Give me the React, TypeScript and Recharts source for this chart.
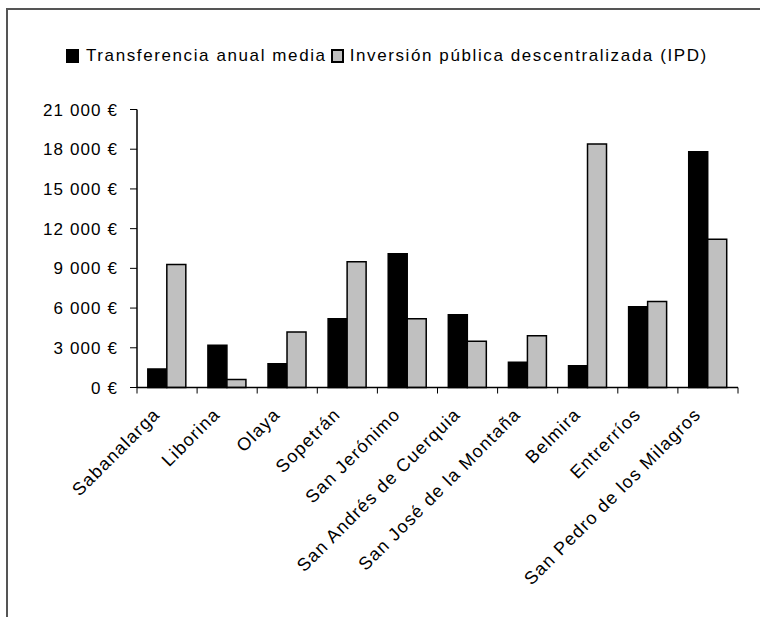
import { BarChart, Bar, XAxis, YAxis } from "recharts";

const municipios = [
  "Sabanalarga", "Liborina", "Olaya", "Sopetrán", "San Jerónimo",
  "San Andrés de Cuerquia", "San José de la Montaña", "Belmira", "Entrerríos", "San Pedro de los Milagros",
];
const transferencia = [1400, 3200, 1800, 5200, 10100, 5500, 1900, 1650, 6100, 17800];
const ipd = [9300, 600, 4200, 9500, 5200, 3500, 3900, 18400, 6500, 11200];
const yTicks = [0, 3000, 6000, 9000, 12000, 15000, 18000, 21000];
const seriesNames = ["Transferencia anual media", "Inversión pública descentralizada (IPD)"];

const data = municipios.map((name, i) => ({ name, transferencia: transferencia[i], ipd: ipd[i] }));

const FONT = '"Liberation Sans", Arial, sans-serif';

const fmtEuro = (v: number) => {
  if (v === 0) return "0 €";
  const k = Math.floor(v / 1000);
  return `${k} 000 €`;
};

// category label: rotated -45°, end anchored just left of the category centre
function CatTick(props: any) {
  const { x, y, payload, index, visibleTicksCount } = props;
  const off = payload.offset ?? 0;
  const lx = x - 6;
  const ly = y + 28;
  return (
    <g>
      <line x1={x - off} y1={y} x2={x - off} y2={y + 6} stroke="#000" strokeWidth={1} />
      {index === visibleTicksCount - 1 && (
        <line x1={x + off} y1={y} x2={x + off} y2={y + 6} stroke="#000" strokeWidth={1} />
      )}
      <text
        x={lx}
        y={ly}
        transform={`rotate(-45, ${lx}, ${ly})`}
        textAnchor="end"
        fontFamily={FONT}
        fontSize={18}
        letterSpacing={1.2}
        fill="#000"
      >
        {payload.value}
      </text>
    </g>
  );
}

function LegendBox() {
  const item = { display: "inline-flex", alignItems: "center" } as const;
  return (
    <div
      style={{
        position: "absolute", left: 66, top: 46,
        fontFamily: FONT, fontSize: 17, letterSpacing: 1.6, color: "#000", whiteSpace: "nowrap", lineHeight: "20px",
      }}
    >
      <span style={item}>
        <span style={{ display: "inline-block", width: 11, height: 12, background: "#000", border: "1px solid #000", marginRight: 7 }} />
        {seriesNames[0]}
      </span>
      <span style={{ ...item, marginLeft: 4 }}>
        <span style={{ display: "inline-block", width: 9, height: 10, background: "#c0c0c0", border: "2px solid #000", marginRight: 6 }} />
        {seriesNames[1]}
      </span>
    </div>
  );
}

export default function App() {
  return (
    <div style={{ position: "absolute", left: 0, top: 0, width: 760, height: 617, background: "#fff", overflow: "hidden" }}>
      <div
        style={{
          position: "absolute", left: 6, top: 8, width: 760, height: 620,
          borderTop: "2px solid #555", borderLeft: "2px solid #555",
        }}
      />
      <LegendBox />
      <div style={{ position: "absolute", left: 0, top: 0 }}>
        <BarChart
          width={760}
          height={617}
          data={data}
          margin={{ top: 109.5, right: 22, bottom: 79.5, left: 0 }}
          barCategoryGap="18%"
          barGap={0}
        >
          <XAxis
            dataKey="name"
            interval={0}
            height={150}
            tickSize={0}
            tickMargin={0}
            tickLine={false}
            axisLine={{ stroke: "#000", strokeWidth: 1.5 }}
            tick={<CatTick />}
          />
          <YAxis
            width={137}
            domain={[0, 21000]}
            ticks={yTicks}
            interval={0}
            tickFormatter={fmtEuro}
            tickSize={7}
            tickMargin={12}
            axisLine={{ stroke: "#000", strokeWidth: 1.5 }}
            tickLine={{ stroke: "#000", strokeWidth: 1 }}
            tick={{ fontFamily: FONT, fontSize: 17, fill: "#000", letterSpacing: 1.1 }}
          />
          <Bar dataKey="transferencia" name={seriesNames[0]} fill="#000" stroke="#000" strokeWidth={1.5} isAnimationActive={false} />
          <Bar dataKey="ipd" name={seriesNames[1]} fill="#c0c0c0" stroke="#000" strokeWidth={1.5} isAnimationActive={false} />
        </BarChart>
      </div>
    </div>
  );
}
